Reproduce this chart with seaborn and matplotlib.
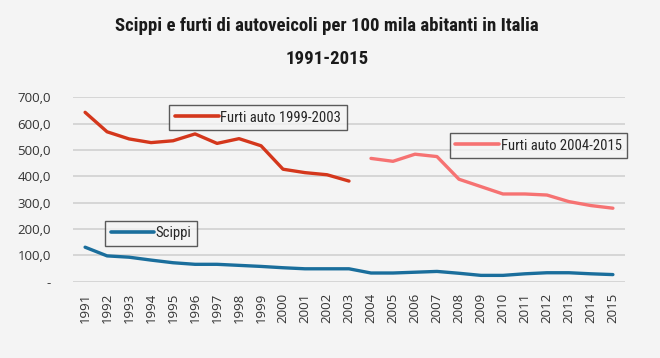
import matplotlib
matplotlib.use("Agg")
import matplotlib.pyplot as plt
import seaborn as sns
import pandas as pd
from matplotlib.lines import Line2D

years = list(range(1991, 2016))
furti_1999_2003 = [643, 569, 542, 528, 535, 561, 525, 543, 516, 427, 414, 406, 382]
years_a = list(range(1991, 2004))
furti_2004_2015 = [468, 457, 484, 475, 389, 361, 333, 333, 329, 304, 289, 279]
years_b = list(range(2004, 2016))
scippi = [131, 98, 93, 82, 72, 66, 66, 62, 58, 53, 49, 49, 49,
          33, 33, 36, 39, 32, 24, 24, 30, 34, 34, 30, 27]
y_ticks = [0, 100, 200, 300, 400, 500, 600, 700]
y_labels = ["-", "100,0", "200,0", "300,0", "400,0", "500,0", "600,0", "700,0"]

title1 = "Scippi e furti di autoveicoli per 100 mila abitanti in Italia"
title2 = "1991-2015"

c_red = "#d4371c"
c_pink = "#f67272"
c_blue = "#1a6e9c"
bg = "#f4f4f4"

sns.set_style("white")
plt.rcParams["font.family"] = ["Open Sans", "DejaVu Sans"]

fig = plt.figure(figsize=(6.6, 3.58), dpi=100, facecolor=bg)
ax = fig.add_axes([73/660, 1-281.7/358, (625-73)/660, (281.7-97.3)/358])
ax.set_facecolor(bg)

df_a = pd.DataFrame({"anno": years_a, "valore": furti_1999_2003})
df_b = pd.DataFrame({"anno": years_b, "valore": furti_2004_2015})
df_s = pd.DataFrame({"anno": years, "valore": scippi})

sns.lineplot(data=df_a, x="anno", y="valore", ax=ax, color=c_red, lw=2.4)
sns.lineplot(data=df_b, x="anno", y="valore", ax=ax, color=c_pink, lw=2.4)
sns.lineplot(data=df_s, x="anno", y="valore", ax=ax, color=c_blue, lw=2.4)

ax.set_xlim(years[0]-0.55, years[-1]+0.55)
ax.set_ylim(0, 700)
ax.set_yticks(y_ticks)
ax.set_yticklabels(y_labels)
ax.set_xticks(years)
ax.set_xticklabels([str(y) for y in years], rotation=90)
ax.tick_params(axis="both", length=0, labelsize=9.5, colors="#333333")
ax.tick_params(axis="y", pad=16)
ax.tick_params(axis="x", pad=8)
ax.set_xlabel("")
ax.set_ylabel("")
ax.grid(axis="y", color="#d0d0d0", lw=1.2)
ax.set_axisbelow(True)
for s in ax.spines.values():
    s.set_visible(False)

cond = ["Roboto Condensed", "DejaVu Sans"]
fig.text(327/660, 1-26/358, title1, ha="center", va="center", fontsize=13.5,
         fontweight="bold", family=cond, color="#1a1a1a")
fig.text(327/660, 1-59/358, title2, ha="center", va="center", fontsize=13.5,
         fontweight="bold", family=cond, color="#1a1a1a")

def add_leg(color, label, x0, y0, x1, y1):
    h = [Line2D([0], [0], color=color, lw=2.6)]
    leg = fig.legend(h, [label], loc="center",
                     bbox_to_anchor=((x0+x1)/2/660, 1-(y0+y1)/2/358),
                     frameon=True, fancybox=False,
                     prop={"family": cond, "size": 10.5},
                     handlelength=3.0, handletextpad=0.1, borderpad=0.4,
                     borderaxespad=0)
    leg.get_frame().set_edgecolor("#333333")
    leg.get_frame().set_linewidth(1.0)
    leg.get_frame().set_facecolor(bg)
    return leg

add_leg(c_red, "Furti auto 1999-2003", 173, 104, 343, 131)
add_leg(c_blue, "Scippi", 111, 220, 191, 247)
add_leg(c_pink, "Furti auto 2004-2015", 454, 132, 623, 159)

fig.savefig("out.png", dpi=100, facecolor=bg)
